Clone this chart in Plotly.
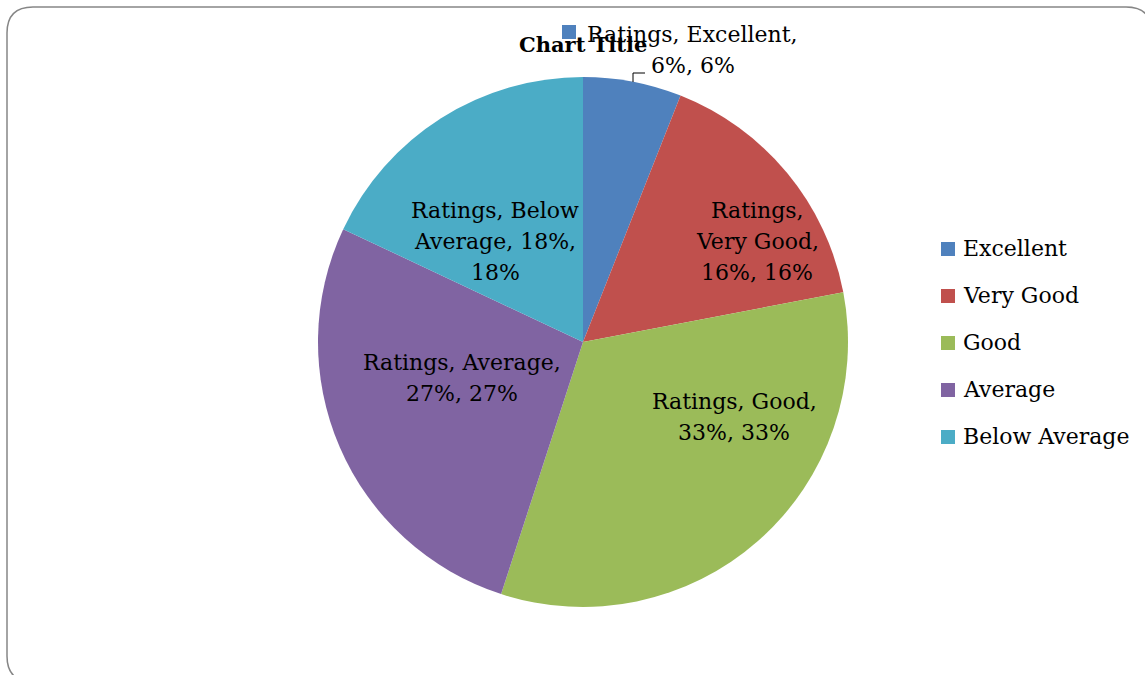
import plotly.graph_objects as go

# ---------------- data ----------------
series_name = "Ratings"
categories = ["Excellent", "Very Good", "Good", "Average", "Below Average"]
values = [6, 16, 33, 27, 18]
colors = ["#4F81BD", "#C0504D", "#9BBB59", "#8064A2", "#4BACC6"]
title_text = "Chart Title"

# ---------------- layout / style ----------------
W, H = 1145, 675
CX, CY, R = 583, 342, 265          # pie centre / radius in pixels
FONT = "DejaVu Serif"
LABEL_SIZE = 22
LEGEND_SIZE = 22
LINE_GAP = 31

# words per wrapped line, and (centre x, first-line y) for each data label
label_breaks = [[2, 2], [1, 2, 2], [2, 2], [2, 2], [2, 2, 1]]
label_pos = [(693, 35), (757, 210), (734, 402), (462, 362), (495, 211)]


def px(x):
    return x / W


def py(y):
    return 1 - y / H


fig = go.Figure()
fig.add_trace(go.Pie(
    labels=categories,
    values=values,
    sort=False,
    direction="clockwise",
    rotation=0,
    marker=dict(colors=colors, line=dict(width=0)),
    textinfo="none",
    hoverinfo="label+value+percent",
    showlegend=False,
    domain=dict(x=[px(CX - R), px(CX + R)], y=[py(CY + R), py(CY - R)]),
))

annotations = []
shapes = []

# title (drawn first so the label sits over it like in the reference)
annotations.append(dict(
    x=px(583), y=py(45), xref="paper", yref="paper", text=f"<b>{title_text}</b>",
    showarrow=False, xanchor="center", yanchor="middle",
    font=dict(family=FONT, size=21, color="#000000"),
))

# data labels
total = sum(values)
for i, (cat, v) in enumerate(zip(categories, values)):
    pct = round(100 * v / total)
    text = f"{series_name}, {cat}, {v}%, {pct}%"
    words = text.split(" ")
    lines, k = [], 0
    for n in label_breaks[i]:
        lines.append(" ".join(words[k:k + n]))
        k += n
    x0, y0 = label_pos[i]
    for j, ln in enumerate(lines):
        annotations.append(dict(
            x=px(x0), y=py(y0 + j * LINE_GAP), xref="paper", yref="paper",
            text=ln, showarrow=False, xanchor="center", yanchor="middle",
            font=dict(family=FONT, size=LABEL_SIZE, color="#000000"),
        ))

# legend key next to the outside (Excellent) label
shapes.append(dict(type="rect", xref="paper", yref="paper",
                   x0=px(562), x1=px(576), y0=py(39), y1=py(25),
                   fillcolor=colors[0], line=dict(width=0)))
# leader line for the Excellent label
shapes.append(dict(type="path", xref="paper", yref="paper",
                   path=f"M {px(633)},{py(82)} L {px(633)},{py(73)} L {px(645)},{py(73)}",
                   line=dict(color="#000000", width=1)))

# legend (manual)
LEG_X, LEG_Y0, LEG_DY = 941, 249, 47
for i, cat in enumerate(categories):
    yc = LEG_Y0 + i * LEG_DY
    shapes.append(dict(type="rect", xref="paper", yref="paper",
                       x0=px(LEG_X), x1=px(LEG_X + 14), y0=py(yc + 7), y1=py(yc - 7),
                       fillcolor=colors[i], line=dict(width=0)))
    annotations.append(dict(
        x=px(LEG_X + 20), y=py(yc - 1), xref="paper", yref="paper", text=cat,
        showarrow=False, xanchor="left", yanchor="middle",
        font=dict(family=FONT, size=LEGEND_SIZE, color="#000000"),
    ))

# rounded chart-area border
bx0, by0, bx1, by1, rr = 7, 7, 1152, 682, 26
path = (f"M {px(bx0 + rr)},{py(by0)} L {px(bx1 - rr)},{py(by0)} "
        f"Q {px(bx1)},{py(by0)} {px(bx1)},{py(by0 + rr)} "
        f"L {px(bx1)},{py(by1 - rr)} Q {px(bx1)},{py(by1)} {px(bx1 - rr)},{py(by1)} "
        f"L {px(bx0 + rr)},{py(by1)} Q {px(bx0)},{py(by1)} {px(bx0)},{py(by1 - rr)} "
        f"L {px(bx0)},{py(by0 + rr)} Q {px(bx0)},{py(by0)} {px(bx0 + rr)},{py(by0)} Z")
shapes.append(dict(type="path", xref="paper", yref="paper", path=path,
                   line=dict(color="#868686", width=1.5), layer="above"))

fig.update_layout(
    width=W, height=H, autosize=False,
    margin=dict(l=0, r=0, t=0, b=0),
    paper_bgcolor="#FFFFFF", plot_bgcolor="#FFFFFF",
    annotations=annotations, shapes=shapes, showlegend=False,
)

fig.write_html("out.html",
               config={"displayModeBar": False},
               post_script="document.body.style.margin='0';document.body.style.overflow='hidden';")
